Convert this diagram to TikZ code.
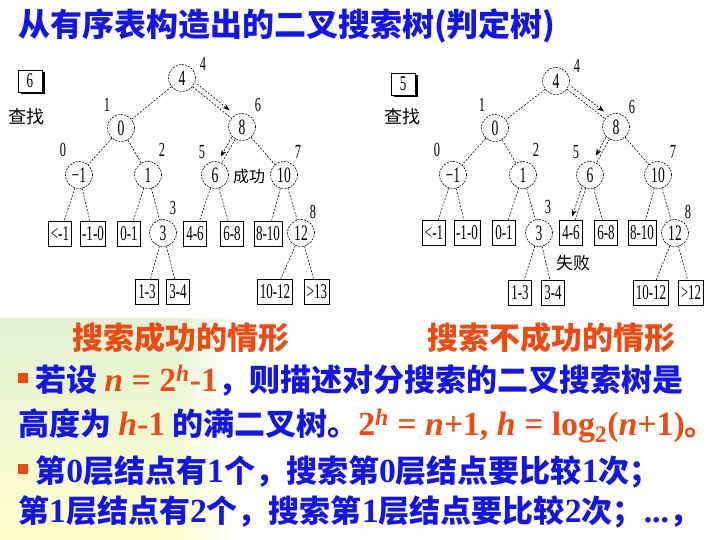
\documentclass[tikz,border=0pt]{standalone}
\usepackage{fontspec}
\setmainfont{Liberation Serif}
\newfontfamily\cj{Noto Sans CJK SC}
\newfontfamily\lt[Scale=1.09]{Liberation Serif}
\newfontfamily\tf[FakeStretch=0.62]{Liberation Serif}
\usetikzlibrary{calc,arrows.meta,shadows,fadings}
\definecolor{cb}{RGB}{22,22,225}
\definecolor{co}{RGB}{235,75,20}
\definecolor{bgG}{RGB}{226,241,212}
\definecolor{bgY}{RGB}{255,255,204}
\tikzfading[name=fadeR, left color=transparent!0, right color=transparent!100]
\newcommand\bul{\textcolor{co}{\raisebox{8pt}{\rule{10pt}{10pt}}}}
\begin{document}
\begin{tikzpicture}[x=1pt,y=-1pt,
  circ/.style={circle, draw, dash pattern=on 2pt off 1.2pt, line width=0.6pt, minimum size=27pt, inner sep=0pt, font=\tf\fontsize{22}{22}\selectfont},
  leaf/.style={draw, line width=0.7pt, minimum height=25pt, minimum width=23pt, inner xsep=2pt, inner ysep=0pt, font=\tf\fontsize{21}{21}\selectfont},
  lvl/.style={font=\tf\fontsize{20}{20}\selectfont, inner sep=0pt},
  edge/.style={dash pattern=on 2pt off 1.5pt, line width=0.6pt},
  arr/.style={edge, -{Stealth[length=7pt,width=5pt]}},
  qbox/.style={draw, fill=white, line width=0.7pt, minimum width=24pt, minimum height=22pt, inner sep=0pt, font=\tf\fontsize{21}{21}\selectfont, drop shadow={shadow xshift=2.5pt, shadow yshift=-2.5pt, fill=black, opacity=1}},
  cjs/.style={font=\cj\fontsize{18}{18}\selectfont, inner sep=0pt},
  head/.style={font=\cj\bfseries\fontsize{31}{31}\selectfont, text=co, inner sep=0pt},
  body/.style={font=\cj\bfseries\fontsize{31}{31}\selectfont, text=cb, inner sep=0pt, anchor=base west},
  ttl/.style={font=\cj\bfseries\fontsize{32}{32}\selectfont, text=cb, inner sep=0pt, anchor=base west}
]
\useasboundingbox (0,0) rectangle (720,540);
\fill[white] (0,0) rectangle (720,540);
\shade[top color=bgG, bottom color=bgY] (0,318) rectangle (170,540);
\shade[top color=bgG, bottom color=bgY, path fading=fadeR] (170,318) rectangle (235,540);

% title
\node[ttl] (title) at (18,37) {从有序表构造出的二叉搜索树(判定树)};

% ---------- left tree ----------
\node[qbox] (Lq) at (30,81) {6};
\node[cjs] (Lfind) at (27,117) {查找};
\node[circ] (L4) at (182,78) {4};
\node[circ] (L0) at (121,128) {0};
\node[circ] (L8) at (242,127) {8};
\node[circ] (Lm1) at (79,175) {−1};
\node[circ] (L1) at (148,175) {1};
\node[circ] (L6) at (215,175) {6};
\node[circ] (L10) at (284,175) {10};
\node[leaf] (La) at (60,234) {<-1};
\node[leaf] (Lb) at (93,234) {-1-0};
\node[leaf] (Lc) at (129,234) {0-1};
\node[circ] (L3) at (163,233) {3};
\node[leaf] (Ld) at (195,234) {4-6};
\node[leaf] (Le) at (232,234) {6-8};
\node[leaf] (Lf) at (268,234) {8-10};
\node[circ] (L12) at (301,233) {12};
\node[leaf] (Lg) at (147,292) {1-3};
\node[leaf] (Lh) at (178,292) {3-4};
\node[leaf] (Li) at (275,292) {10-12};
\node[leaf] (Lj) at (317,292) {>13};
\node[lvl] (lL4) at (203,64) {4};
\node[lvl] (lL0) at (107,105) {1};
\node[lvl] (lL8) at (258,105) {6};
\node[lvl] (lLm1) at (63,150) {0};
\node[lvl] (lL1) at (162,150) {2};
\node[lvl] (lL6) at (202,152) {5};
\node[lvl] (lL10) at (298,152) {7};
\node[lvl] (lL3) at (173,208) {3};
\node[lvl] (lL12) at (313,212) {8};
\node[cjs, font=\cj\fontsize{16}{16}\selectfont] (Lok) at (249,176) {成功};
\foreach \a/\b in {L4/L0,L4/L8,L0/Lm1,L0/L1,L8/L6,L8/L10,Lm1/La,Lm1/Lb,L1/Lc,L1/L3,L6/Ld,L6/Le,L10/Lf,L10/L12,L3/Lg,L3/Lh,L12/Li,L12/Lj}
  \draw[edge] (\a) -- (\b);
\draw[arr] ($(L4)!0.2!(L8)!5pt!90:(L8)$) -- ($(L4)!0.74!(L8)!5pt!90:(L8)$);
\draw[arr] ($(L8)!0.25!(L6)!4pt!-90:(L6)$) -- ($(L8)!0.66!(L6)!4pt!-90:(L6)$);

% ---------- right tree ----------
\node[qbox] (Rq) at (403,84) {5};
\node[cjs] (Rfind) at (402,117) {查找};
\node[circ] (R4) at (556,81) {4};
\node[circ] (R0) at (495,128) {0};
\node[circ] (R8) at (616,127) {8};
\node[circ] (Rm1) at (453,175) {−1};
\node[circ] (R1) at (523,175) {1};
\node[circ] (R6) at (590,175) {6};
\node[circ] (R10) at (658,175) {10};
\node[leaf] (Ra) at (434,233) {<-1};
\node[leaf] (Rb) at (467,233) {-1-0};
\node[leaf] (Rc) at (504,233) {0-1};
\node[circ] (R3) at (539,233) {3};
\node[leaf] (Rd) at (571,233) {4-6};
\node[leaf] (Re) at (606,233) {6-8};
\node[leaf] (Rf) at (642,233) {8-10};
\node[circ] (R12) at (675,233) {12};
\node[leaf] (Rg) at (520,293) {1-3};
\node[leaf] (Rh) at (553,293) {3-4};
\node[leaf] (Ri) at (651,293) {10-12};
\node[leaf] (Rj) at (691,293) {>12};
\node[lvl] (lR4) at (577,66) {4};
\node[lvl] (lR0) at (482,105) {1};
\node[lvl] (lR8) at (632,107) {6};
\node[lvl] (lRm1) at (437,150) {0};
\node[lvl] (lR1) at (536,150) {2};
\node[lvl] (lR6) at (576,152) {5};
\node[lvl] (lR10) at (673,152) {7};
\node[lvl] (lR3) at (548,207) {3};
\node[lvl] (lR12) at (688,212) {8};
\node[cjs, font=\cj\fontsize{17}{17}\selectfont] (Rfail) at (573,263) {失败};
\foreach \a/\b in {R4/R0,R4/R8,R0/Rm1,R0/R1,R8/R6,R8/R10,Rm1/Ra,Rm1/Rb,R1/Rc,R1/R3,R6/Rd,R6/Re,R10/Rf,R10/R12,R3/Rg,R3/Rh,R12/Ri,R12/Rj}
  \draw[edge] (\a) -- (\b);
\draw[arr] ($(R4)!0.21!(R8)!5pt!90:(R8)$) -- ($(R4)!0.75!(R8)!5pt!90:(R8)$);
\draw[arr] ($(R8)!0.25!(R6)!4pt!-90:(R6)$) -- ($(R8)!0.64!(R6)!4pt!-90:(R6)$);
\draw[arr] ($(R6)!0.24!(Rd)!4pt!-90:(Rd)$) -- ($(R6)!0.74!(Rd)!4pt!-90:(Rd)$);

% ---------- captions ----------
\node[head] (hs) at (181,338) {搜索成功的情形};
\node[head] (hf) at (551,338) {搜索不成功的情形};

% ---------- body ----------
\node[body] (t1) at (18,391) {\bul\ 若设 {\lt\color{co}\textit{n} = 2\textsuperscript{\textit{h}}-1}，则描述对分搜索的二叉搜索树是};
\node[body] (t2) at (18,435) {高度为 {\lt\color{co}\textit{h}-1} 的满二叉树。{\lt\color{co}2\textsuperscript{\textit{h}} = \textit{n}+1, \textit{h} = log\textsubscript{2}(\textit{n}+1)}{\color{co}。}};
\node[body] (t3) at (18,482) {\bul\ 第{\lt 0}层结点有{\lt 1}个，搜索第{\lt 0}层结点要比较{\lt 1}次；};
\node[body] (t4) at (18,522) {第{\lt 1}层结点有{\lt 2}个，搜索第{\lt 1}层结点要比较{\lt 2}次；{\lt ...}，};
\end{tikzpicture}
\end{document}
